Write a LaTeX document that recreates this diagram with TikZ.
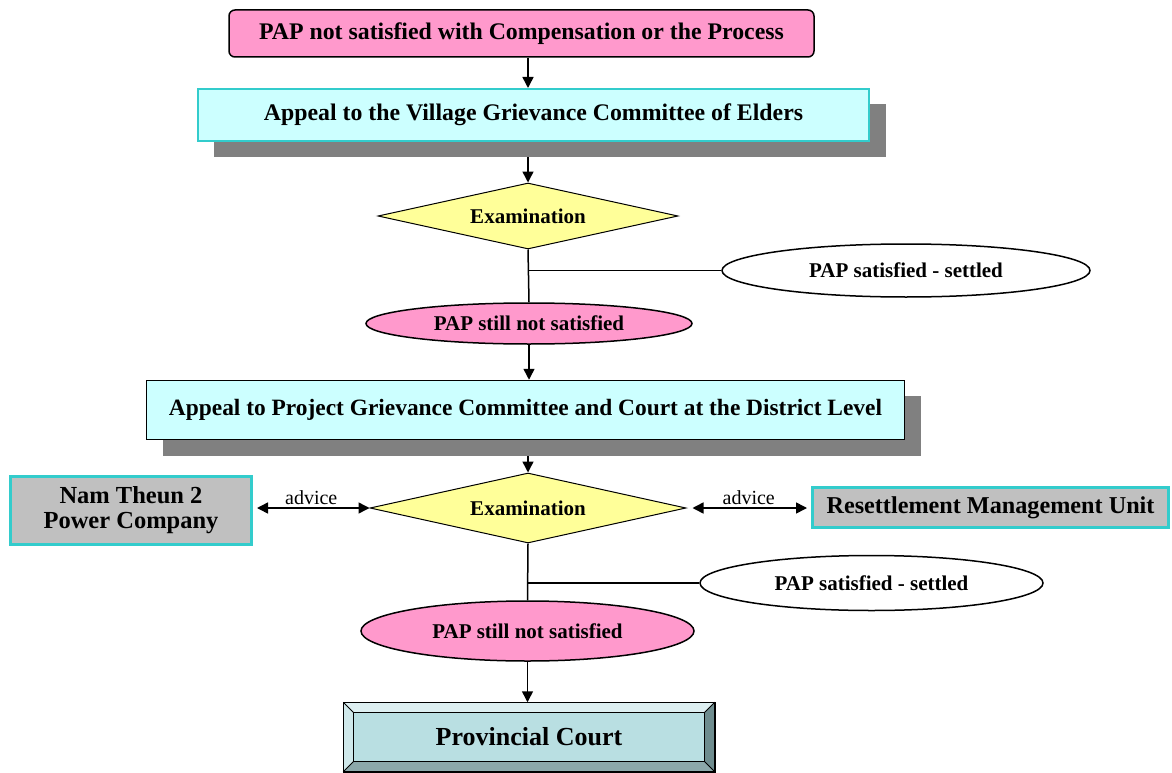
\documentclass[tikz,border=0pt]{standalone}
\usepackage{fontspec}
\setmainfont{Liberation Serif}
\usetikzlibrary{arrows.meta,shapes.geometric,calc}
\definecolor{pinkF}{HTML}{FF99CC}
\definecolor{cyanF}{HTML}{CCFFFF}
\definecolor{tealB}{HTML}{33CCCC}
\definecolor{yellowF}{HTML}{FFFF99}
\definecolor{shadowG}{HTML}{808080}
\definecolor{grayF}{HTML}{C0C0C0}
\definecolor{courtF}{HTML}{B9DFE2}
\definecolor{bevTop}{HTML}{DDEFF1}
\definecolor{bevLeft}{HTML}{CFE8EA}
\definecolor{bevRight}{HTML}{6E8C8E}
\definecolor{bevBot}{HTML}{8CA8AA}
\tikzset{
  x=1pt, y=-1pt,
  big/.style={font=\fontsize{23.8}{26}\selectfont\bfseries},
  small/.style={font=\fontsize{21}{24}\selectfont\bfseries},
  pinkbox/.style={draw=black, line width=1.5pt, fill=pinkF, rounded corners=6pt, inner sep=0pt, big},
  cyanbox/.style={fill=cyanF, inner sep=0pt, big},
  shadowbox/.style={fill=shadowG, draw=none, inner sep=0pt},
  graybox/.style={draw=tealB, line width=3pt, fill=grayF, inner sep=0pt, big, align=center},
  decision/.style={diamond, draw=black, line width=1pt, fill=yellowF, inner sep=0pt, small},
  outcome/.style={ellipse, draw=black, line width=1.5pt, fill=white, inner sep=0pt, small},
  pinkell/.style={ellipse, draw=black, line width=1.5pt, fill=pinkF, inner sep=0pt, small},
  arr/.style={line width=1.5pt, -{Triangle[width=11pt,length=11pt]}},
  darr/.style={line width=1.5pt, {Triangle[width=11pt,length=11pt]}-{Triangle[width=11pt,length=11pt]}},
  conn/.style={line width=1.5pt},
  lbl/.style={font=\fontsize{20}{22}\selectfont, inner sep=1pt}
}
\begin{document}
\begin{tikzpicture}
\useasboundingbox (0,0) rectangle (1172,773);

% top
\node[pinkbox, minimum width=585pt, minimum height=47pt] (top) at (521.5,33.5) {PAP not satisfied with Compensation or the Process};

% box 1 with shadow
\node[shadowbox, minimum width=672pt, minimum height=53pt] (sh1) at (550,130.5) {};
\node[cyanbox, draw=tealB, line width=2pt, minimum width=671pt, minimum height=52pt] (box1) at (533.5,115) {\raisebox{3pt}{Appeal to the Village Grievance Committee of Elders}};

% decision 1
\node[decision, minimum width=300pt, minimum height=66pt, aspect=4.5] (dia1) at (528,216) {Examination};
\node[outcome, minimum width=368pt, minimum height=53pt] (s1) at (906,270.5) {PAP satisfied - settled};
\node[pinkell, minimum width=326pt, minimum height=41pt] (p1) at (529,323.5) {PAP still not satisfied};

% box 2 with shadow
\node[shadowbox, minimum width=758pt, minimum height=60pt] (sh2) at (542,426) {};
\node[cyanbox, draw=black, line width=1.5pt, minimum width=758pt, minimum height=59pt, font=\fontsize{23.4}{26}\selectfont\bfseries] (box2) at (525.5,410) {\raisebox{4pt}{Appeal to Project Grievance Committee and Court at the District Level}};

% decision 2
\node[decision, minimum width=316pt, minimum height=70pt, aspect=4.5] (dia2) at (528,508) {Examination};
\node[graybox, minimum width=241pt, minimum height=68pt, font=\fontsize{24.5}{26}\selectfont\bfseries] (nam) at (131,510.5) {Nam Theun 2\\[-1pt]Power Company};
\node[graybox, minimum width=356pt, minimum height=40pt, font=\fontsize{24.2}{26}\selectfont\bfseries] (rmu) at (990.5,507.5) {\raisebox{5pt}{Resettlement Management Unit}};
\node[outcome, minimum width=343pt, minimum height=55pt] (s2) at (871.5,583) {PAP satisfied - settled};
\node[pinkell, minimum width=333pt, minimum height=60pt] (p2) at (527.5,631) {PAP still not satisfied};

% provincial court
\node[draw=black, line width=1.5pt, fill=courtF, minimum width=370pt, minimum height=68pt, inner sep=0pt] (court) at (529,737) {};
\fill[bevTop] (court.north west) -- (court.north east) -- ($(court.north east)+(-10,10)$) -- ($(court.north west)+(10,10)$) -- cycle;
\fill[bevLeft] (court.north west) -- ($(court.north west)+(10,10)$) -- ($(court.south west)+(10,-10)$) -- (court.south west) -- cycle;
\fill[bevRight] (court.north east) -- (court.south east) -- ($(court.south east)+(-10,-10)$) -- ($(court.north east)+(-10,10)$) -- cycle;
\fill[bevBot] (court.south west) -- ($(court.south west)+(10,-10)$) -- ($(court.south east)+(-10,-10)$) -- (court.south east) -- cycle;
\draw[line width=1.5pt] (court.north west) rectangle (court.south east);
\draw[line width=1pt] ($(court.north west)+(10,10)$) rectangle ($(court.south east)+(-10,-10)$);
\draw[line width=0.8pt] (court.north west) -- ($(court.north west)+(10,10)$)
  (court.north east) -- ($(court.north east)+(-10,10)$)
  (court.south west) -- ($(court.south west)+(10,-10)$)
  (court.south east) -- ($(court.south east)+(-10,-10)$);
\node[font=\fontsize{26}{28}\selectfont\bfseries] (courttext) at (court.center) {Provincial Court};

% connectors
\draw[arr] (top.south -| dia1) -- (box1.north -| dia1);
\draw[arr] (sh1.south -| dia1) -- (dia1.north);
\draw[conn] (dia1.south) -- (p1.north);
\draw[conn] (dia1.south |- s1.west) -- (s1.west);
\draw[arr] (p1.south) -- (box2.north -| p1);
\draw[arr] (sh2.south -| dia2) -- (dia2.north);
\draw[darr, shorten <=4pt] (nam.east |- dia2) -- node[lbl, above=2pt] (adv1) {advice} (dia2.west);
\draw[darr, shorten <=6pt, shorten >=4pt] (dia2.east) -- node[lbl, above=2pt] (adv2) {advice} (rmu.west |- dia2);
\draw[conn] (dia2.south) -- (p2.north);
\draw[conn] (dia2.south |- s2.west) -- (s2.west);
\draw[arr] (p2.south) -- (court.north -| p2);
\end{tikzpicture}
\end{document}
